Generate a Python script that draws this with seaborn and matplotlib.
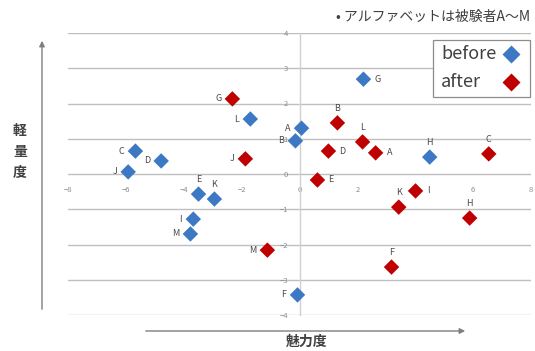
import matplotlib
matplotlib.use("Agg")
import matplotlib.pyplot as plt
from matplotlib.lines import Line2D
from matplotlib.patches import Rectangle, FancyArrowPatch
import seaborn as sns
import pandas as pd

# Subjects A–M, attractiveness (x) vs lightness (y), before and after
subjects = list("ABCDEFGHIJKLM")
before_x = [0.07, -0.14, -5.67, -4.78, -3.49, -0.07, 2.21, 4.50, -3.67, -5.92, -2.94, -1.70, -3.77]
before_y = [1.30, 0.94, 0.65, 0.37, -0.57, -3.43, 2.69, 0.48, -1.28, 0.06, -0.71, 1.56, -1.70]
after_x = [2.63, 1.31, 6.54, 1.00, 0.62, 3.18, -2.32, 5.88, 4.01, -1.87, 3.43, 2.18, -1.11]
after_y = [0.60, 1.45, 0.57, 0.65, -0.17, -2.64, 2.13, -1.25, -0.48, 0.43, -0.94, 0.91, -2.16]

# where each data label sits relative to its marker
before_pos = ["left", "left", "left", "left", "above", "left", "right", "above",
              "left", "left", "above", "left", "left"]
after_pos = ["right", "above", "above", "right", "right", "above", "left", "above",
             "right", "left", "above", "above", "left"]

x_ticks = [-8, -6, -4, -2, 0, 2, 4, 6, 8]
y_ticks = [-4, -3, -2, -1, 0, 1, 2, 3, 4]
phases = ["before", "after"]

df = pd.DataFrame({
    "x": before_x + after_x,
    "y": before_y + after_y,
    "phase": ["before"] * len(subjects) + ["after"] * len(subjects),
    "subject": subjects + subjects,
    "pos": before_pos + after_pos,
})

sns.set_theme(style="white")
plt.rcParams["font.family"] = ["Noto Sans CJK JP", "DejaVu Sans"]

W, H = 535, 351
fig = plt.figure(figsize=(W / 100, H / 100), dpi=100)
ax = fig.add_axes([68 / W, (H - 315) / H, 463 / W, 282 / H])

palette = {"before": "#3C78C3", "after": "#C00000"}
sns.scatterplot(data=df, x="x", y="y", hue="phase", palette=palette,
                marker="D", s=62, edgecolor="none", legend=False, ax=ax, zorder=3)

ax.set_xlim(-8, 8)
ax.set_ylim(-4, 4)
ax.set_xticks(x_ticks)
ax.set_yticks(y_ticks)
ax.set_xlabel("")
ax.set_ylabel("")

# horizontal gridlines only, axis line through x = 0
ax.yaxis.grid(True, color="#BFBFBF", lw=1.0)
ax.xaxis.grid(False)
for s in ["top", "right"]:
    ax.spines[s].set_visible(False)
ax.spines["left"].set_position(("data", 0))
ax.spines["left"].set_color("#D0D0D0")
ax.spines["left"].set_linewidth(1.0)
ax.spines["bottom"].set_position(("data", 0))
ax.spines["bottom"].set_visible(False)
ax.tick_params(axis="both", labelsize=5.5, colors="#8C8C8C", length=2.5, width=0.6)
ax.tick_params(axis="x", length=0, pad=9)
ax.tick_params(axis="y", direction="inout", pad=7)

offsets = {"left": (-8, 0, "right", "center"),
           "right": (8, 0, "left", "center"),
           "above": (0, 7, "center", "bottom")}
for _, r in df.iterrows():
    dx, dy, ha, va = offsets[r["pos"]]
    ax.annotate(r["subject"], (r["x"], r["y"]), xytext=(dx, dy),
                textcoords="offset points", ha=ha, va=va,
                fontsize=6.5, color="#4A4A4A", zorder=4)

# legend box: left-aligned labels with the marker to their right
fig.add_artist(Rectangle((433 / W, 1 - 97 / H), 97 / W, 57 / H,
                         transform=fig.transFigure, facecolor="white",
                         edgecolor="#8C8C8C", lw=0.9, zorder=5))
for i, k in enumerate(phases):
    yc = 1 - (54 + i * 28) / H
    fig.text(441 / W, yc, k, fontsize=13, color="#404040",
             ha="left", va="center", zorder=6)
    fig.add_artist(Line2D([511 / W], [yc], transform=fig.transFigure,
                          marker="D", ls="none", ms=9.5, color=palette[k],
                          markeredgecolor="none", zorder=6))

fig.text(336 / W, 1 - 17 / H, "• アルファベットは被験者A～M",
         fontsize=10, color="#404040", va="center", ha="left")

# axis arrows and their titles
fig.patches.append(FancyArrowPatch(
    (42 / W, 1 - 312 / H), (42 / W, 1 - 38 / H), transform=fig.transFigure,
    arrowstyle="-|>", mutation_scale=8, color="#7F7F7F", lw=1.0))
fig.patches.append(FancyArrowPatch(
    (143 / W, 1 - 331 / H), (468 / W, 1 - 331 / H), transform=fig.transFigure,
    arrowstyle="-|>", mutation_scale=8, color="#7F7F7F", lw=1.0))

for i, ch in enumerate("軽量度"):
    fig.text(20 / W, 1 - (131 + i * 21) / H, ch, fontsize=10, color="#404040",
             ha="center", va="center", fontweight="bold")
fig.text(307 / W, 1 - 342 / H, "魅力度", fontsize=10, color="#404040",
         ha="center", va="center", fontweight="bold")

fig.savefig("out.png", dpi=100)
